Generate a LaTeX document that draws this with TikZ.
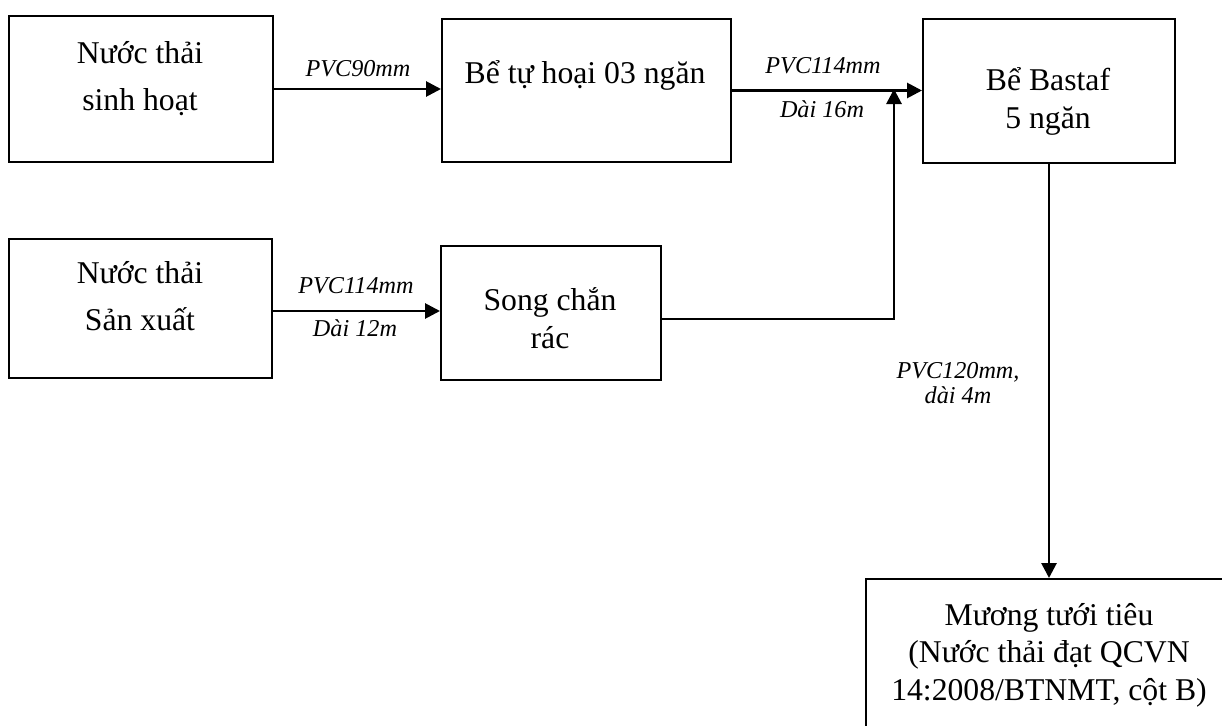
\documentclass[tikz,border=0pt]{standalone}
\usepackage{fontspec}
\setmainfont{Liberation Serif}
\usetikzlibrary{arrows.meta}
\tikzset{
  box/.style={draw, line width=2pt, rectangle, anchor=north west, inner sep=0pt},
  txt/.style={anchor=base, align=center, inner sep=0pt, font=\fontsize{31.7}{38}\selectfont},
  txtwide/.style={txt, font=\fontsize{31.7}{47}\selectfont},
  lbl/.style={anchor=base, align=center, inner sep=0pt, font=\fontsize{24.2}{25}\selectfont\itshape},
  arr/.style={line width=2.8pt, -{Triangle[length=15pt,width=15pt]}}
}
\begin{document}
\begin{tikzpicture}[x=1pt,y=-1pt]
\useasboundingbox (0,0) rectangle (1222,725);
% boxes
\node[box, minimum width=264pt, minimum height=146pt] (b1) at (8,15) {};
\node[box, minimum width=289pt, minimum height=143pt] (b2) at (441,18) {};
\node[box, minimum width=252pt, minimum height=144pt] (b3) at (922,18) {};
\node[box, minimum width=263pt, minimum height=139pt] (b4) at (8,238) {};
\node[box, minimum width=220pt, minimum height=134pt] (b5) at (440,245) {};
\node[box, minimum width=420pt, minimum height=200pt] (b6) at (865,578) {};
% texts (base anchor = last line baseline)
\node[txtwide] (t1) at (140,110) {Nước thải\\sinh hoạt};
\node[txt] (t2) at (585,83) {Bể tự hoại 03 ngăn};
\node[txt] (t3) at (1048,128) {Bể Bastaf\\5 ngăn};
\node[txtwide] (t4) at (140,330) {Nước thải\\Sản xuất};
\node[txt] (t5) at (550,348) {Song chắn\\rác};
\node[txt, font=\fontsize{31.7}{37.5}\selectfont] (t6) at (1049,700) {Mương tưới tiêu\\(Nước thải đạt QCVN\\14:2008/BTNMT, cột B)};
% junction
\coordinate (j) at (894,89);
% connectors
\draw[arr] (b1.east) -- (b1.east -| b2.west);
\draw[arr] (b2.east) -- (b2.east -| b3.west);
\draw[arr] ([yshift=-2.5pt]b4.east) -- ([yshift=-2.5pt]b4.east -| b5.west);
\draw[arr] ([yshift=-6pt]b5.east) -| (j);
\draw[arr] (b3.south) -- (b3.south |- b6.north);
% labels
\node[lbl] (l1) at (358,76) {PVC90mm};
\node[lbl] (l2) at (823,74) {PVC114mm};
\node[lbl] (l3) at (822,117) {Dài 16m};
\node[lbl] (l4) at (356,293) {PVC114mm};
\node[lbl] (l5) at (355,336) {Dài 12m};
\node[lbl] (l6) at (958,403) {PVC120mm,\\dài 4m};
\end{tikzpicture}
\end{document}
